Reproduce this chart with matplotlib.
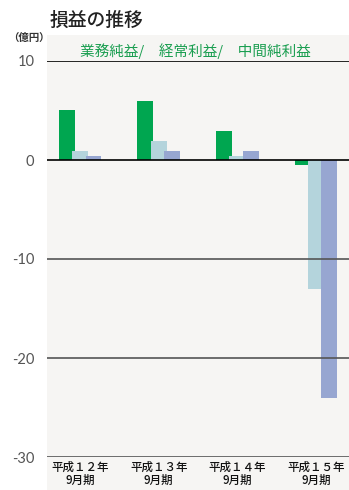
import matplotlib
matplotlib.use('Agg')
import matplotlib.pyplot as plt
from matplotlib.patches import Rectangle
import numpy as np

plt.rcParams['font.family'] = ['Noto Sans CJK JP', 'DejaVu Sans']

periods = ['平成１２年\n9月期', '平成１３年\n9月期', '平成１４年\n9月期', '平成１５年\n9月期']
gyomu = [5.0, 6.0, 2.9, -0.5]      # 業務純益
keijo = [0.9, 1.9, 0.4, -13.0]     # 経常利益
chukan = [0.4, 0.9, 0.9, -24.0]    # 中間純利益
yticks = [10, 0, -10, -20, -30]

colors = ['#00a650', '#b4d4dc', '#97a6d1']

fig = plt.figure(figsize=(3.49, 4.9), dpi=100)
# marbled panel behind the chart
fig.patches.append(Rectangle((47 / 349, 0), 1, 455 / 490, transform=fig.transFigure,
                             facecolor='#f6f5f3', edgecolor='none', zorder=-5))
ax = fig.add_axes([47 / 349, 33 / 490, 302 / 349, 396 / 490])
ax.set_facecolor('none')

x = np.arange(len(periods))
w = 0.2
off = 0.17
for i, (series, c) in enumerate(zip([gyomu, keijo, chukan], colors)):
    ax.bar(x + (i - 1) * off, series, width=w, color=c, zorder=2 + i)

for y in yticks:
    if y >= 0:
        ax.axhline(y, color='black', lw=1.2, zorder=10)
    else:
        ax.axhline(y, color='#555555', lw=1.2, zorder=10)

ax.set_ylim(-30, 10)
ax.set_xlim(-0.42, 3.42)
ax.set_yticks(yticks)
ax.set_yticklabels([str(v) for v in yticks], color='#555555', fontsize=10.5,
                   family=['Lato', 'DejaVu Sans'])
ax.set_xticks(x)
ax.set_xticklabels(periods, fontsize=8.3, color='#111111', linespacing=1.0,
                   fontweight='medium')
ax.tick_params(length=0)
ax.tick_params(axis='x', pad=3)
ax.tick_params(axis='y', pad=9)
for s in ax.spines.values():
    s.set_visible(False)

fig.text(50 / 349, 1 - 20 / 490, '損益の推移', fontsize=13.5, fontweight='medium',
         color='#222222', va='center', ha='left')
fig.text(8 / 349, 1 - 38 / 490, '（億円）', fontsize=7.5, fontweight='bold',
         color='#333333', va='center', ha='left')
fig.text(80 / 349, 1 - 51 / 490, '業務純益/　経常利益/　中間純利益', fontsize=10.5,
         color='#1a9e50', va='center', ha='left')

fig.savefig('out.png', dpi=100)
